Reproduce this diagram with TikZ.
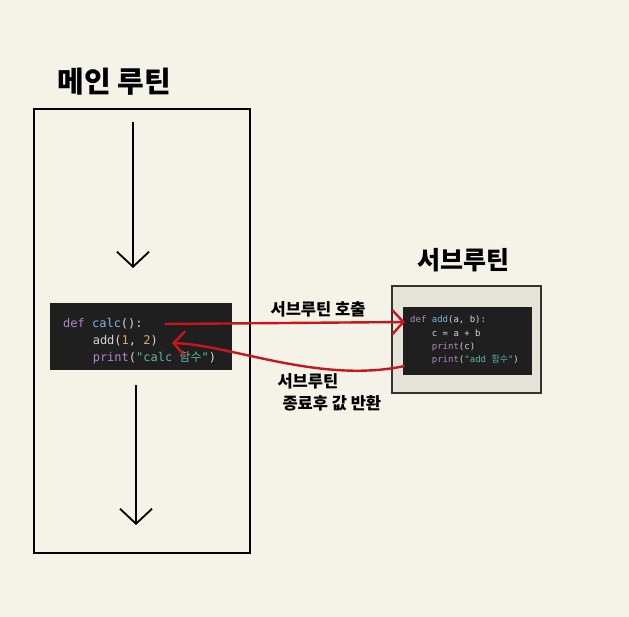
\documentclass[tikz,border=0pt]{standalone}
\usepackage{fontspec}
\setmainfont{Noto Sans CJK KR}
\newfontfamily\kr{Noto Sans CJK KR}
\newfontfamily\codefont{DejaVu Sans Mono}
\usetikzlibrary{arrows.meta}

\definecolor{paper}{HTML}{F5F3E7}
\definecolor{codebg}{HTML}{1F1F1F}
\definecolor{subbg}{HTML}{E6E3D8}
\definecolor{kwcol}{HTML}{B487C4}
\definecolor{fncol}{HTML}{82B3E0}
\definecolor{numcol}{HTML}{D9A86C}
\definecolor{strcol}{HTML}{62B4A0}
\definecolor{plain}{HTML}{D6D6D6}
\definecolor{callred}{HTML}{C8161D}

\newcommand{\kw}[1]{\textcolor{kwcol}{#1}}
\newcommand{\fn}[1]{\textcolor{fncol}{#1}}
\newcommand{\num}[1]{\textcolor{numcol}{#1}}
\newcommand{\str}[1]{\textcolor{strcol}{#1}}

\begin{document}
\begin{tikzpicture}[x=1pt,y=-1pt,
	frame/.style={draw=black,line width=2.2pt},
	flow/.style={draw=black,line width=1.8pt,-{Straight Barb[length=15pt,width=32pt,line width=1.8pt]}},
	call/.style={draw=callred,line width=2.4pt,-{Straight Barb[length=11pt,width=24pt,line width=2.4pt]}},
	codebox/.style={rectangle,fill=codebg,inner sep=0pt},
	codeline/.style={anchor=west,inner sep=0pt,text=plain,font=\codefont\fontsize{12}{17}\selectfont},
	subline/.style={anchor=west,inner sep=0pt,text=plain,font=\codefont\fontsize{9}{13}\selectfont},
	title/.style={font=\bfseries\fontsize{29}{34}\selectfont},
	note/.style={font=\bfseries\fontsize{16.5}{24}\selectfont}
]

	\fill[paper] (0,0) rectangle (629,617);
	\useasboundingbox (0,0) rectangle (629,617);

	% main routine
	\node[title] (maintitle) at (114,82) {메인 루틴};
	\draw[frame] (34,109) rectangle (250,553);
	\coordinate (top1) at (133,122);
	\coordinate (top2) at (133,268);
	\coordinate (bot1) at (136,385);
	\coordinate (bot2) at (136,525);
	\draw[flow] (top1) -- (top2);
	\draw[flow] (bot1) -- (bot2);

	\node[codebox,minimum width=182pt,minimum height=67pt] (calc) at (141,336.5) {};
	\node[codeline] (c1) at (63,324) {\kw{def} \fn{calc}():};
	\node[codeline] (c2) at (92.6,341) {add(\num{1}, \num{2})};
	\node[codeline] (c3) at (92.6,358) {\kw{print}(\str{"calc {\kr 함수}"})};

	% subroutine
	\node[title,font=\bfseries\fontsize{25}{30}\selectfont] (subtitle) at (463,260) {서브루틴};
	\node[rectangle,fill=subbg,draw=black!80,line width=2pt,minimum width=149pt,minimum height=107pt] (sub) at (466.5,339.5) {};
	\node[codebox,minimum width=129pt,minimum height=68pt] (add) at (467.5,341) {};
	\node[subline] (a1) at (410,320) {\kw{def} \fn{add}(a, b):};
	\node[subline] (a2) at (431.7,333.5) {c = a + b};
	\node[subline] (a3) at (431.7,347) {\kw{print}(c)};
	\node[subline] (a4) at (431.7,360) {\kw{print}(\str{"add {\kr 함수}"})};

	% call and return
	\draw[call] ([xshift=22pt]c1.east) -- ([xshift=-5pt,yshift=-2pt]a1.west);
	\draw[call] ([xshift=-27pt,yshift=-6pt]a4.west) .. controls (320,384) and (232,345) .. ([xshift=14pt,yshift=-2pt]c2.east);

	\node[note] (calllabel) at (318,309) {서브루틴 호출};
	\node[note,anchor=north west,align=left] (retlabel) at (274,370) {서브루틴\\[-2pt]\hspace{5pt}종료후 값 반환};

\end{tikzpicture}
\end{document}
